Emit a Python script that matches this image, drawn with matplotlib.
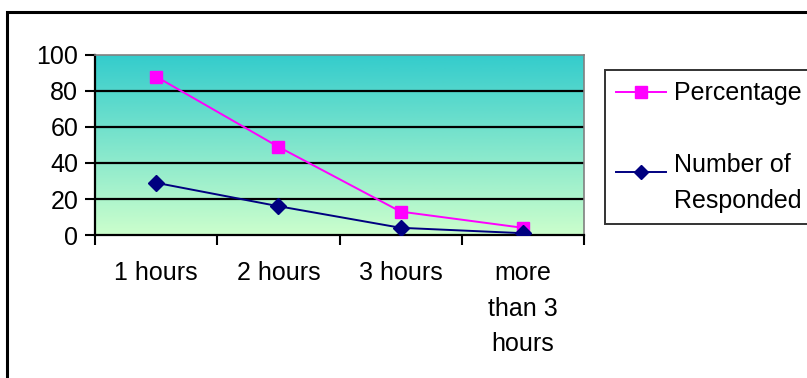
import numpy as np
import matplotlib.pyplot as plt
from matplotlib.colors import LinearSegmentedColormap
from matplotlib.legend_handler import HandlerLine2D
from matplotlib.lines import Line2D
from matplotlib.patches import Rectangle

plt.rcParams['font.family'] = ['Liberation Sans', 'DejaVu Sans']

categories = ["1 hours", "2 hours", "3 hours", "more\nthan 3\nhours"]
percentage = [88, 49, 13, 4]
responded = [29, 16, 4, 1]


class RaisedHandler(HandlerLine2D):
    # puts the legend marker next to the first line of a two-line label
    def __init__(self, dy, **kw):
        super().__init__(**kw)
        self.dy = dy

    def create_artists(self, legend, orig_handle, xdescent, ydescent,
                       width, height, fontsize, trans):
        return super().create_artists(legend, orig_handle, xdescent,
                                      ydescent - 2 * self.dy, width, height,
                                      fontsize, trans)


W, H = 807, 378
fig = plt.figure(figsize=(W / 100, H / 100), dpi=100)

# outer chart frame (clipped at right and bottom like the original)
fig.patches.append(Rectangle((7 / W, -0.1), 1.0, 1.1 - 12 / H,
                             transform=fig.transFigure, fill=False,
                             edgecolor="black", linewidth=2.2))

ax = fig.add_axes([95 / W, 1 - 235 / H, (584 - 95) / W, (235 - 55) / H])

# gradient plot area
cmap = LinearSegmentedColormap.from_list("bg", ["#ccffcc", "#33cccc"])
grad = np.linspace(0, 1, 256).reshape(-1, 1)
ax.imshow(grad, cmap=cmap, aspect="auto", origin="lower",
          extent=[-0.5, 3.5, 0, 100], zorder=0)

for y in [20, 40, 60, 80]:
    ax.axhline(y, color="black", linewidth=1.6, zorder=1)

x = np.arange(len(categories))
ax.plot(x, percentage, color="#ff00ff", marker="s", markersize=9,
        linewidth=1.4, zorder=3)
ax.plot(x, responded, color="#000080", marker="D", markersize=8,
        linewidth=1.4, zorder=3)

fs = 18
ax.set_xlim(-0.5, 3.5)
ax.set_ylim(0, 100)
ax.set_yticks(range(0, 101, 20))
ax.set_xticks(np.arange(-0.5, 3.6, 1))
ax.set_xticklabels([])
ax.set_xticks(x, minor=True)
ax.set_xticklabels(categories, minor=True, fontsize=fs, linespacing=1.6)
ax.tick_params(axis="x", which="minor", length=0, pad=19)
ax.tick_params(axis="x", which="major", direction="out", length=7, width=1.5)
ax.tick_params(axis="y", direction="out", length=7, width=1.5, labelsize=fs, pad=5)
for lbl in ax.get_xticklabels(minor=True):
    lbl.set_verticalalignment("top")

ax.spines["left"].set_linewidth(1.6)
ax.spines["bottom"].set_linewidth(1.6)
ax.spines["top"].set_color("#808080")
ax.spines["right"].set_color("#808080")
ax.spines["top"].set_linewidth(1.2)
ax.spines["right"].set_linewidth(1.2)

h_pct = Line2D([], [], color="#ff00ff", marker="s", markersize=8, linewidth=1.4)
h_num = Line2D([], [], color="#000080", marker="D", markersize=7, linewidth=1.4)
leg = fig.legend([h_pct, h_num], ["Percentage", "Number of\nResponded"],
                 loc="upper left", bbox_to_anchor=(605 / W, 1 - 70 / H),
                 fontsize=fs, frameon=True, fancybox=False, handlelength=2.0,
                 handletextpad=0.3, labelspacing=1.9, borderpad=0.45,
                 borderaxespad=0, handler_map={h_num: RaisedHandler(8.5)})
leg.get_frame().set_edgecolor("black")
leg.get_frame().set_linewidth(1.4)
for t in leg.get_texts():
    t.set_linespacing(1.65)

fig.savefig("out.png", dpi=100)
